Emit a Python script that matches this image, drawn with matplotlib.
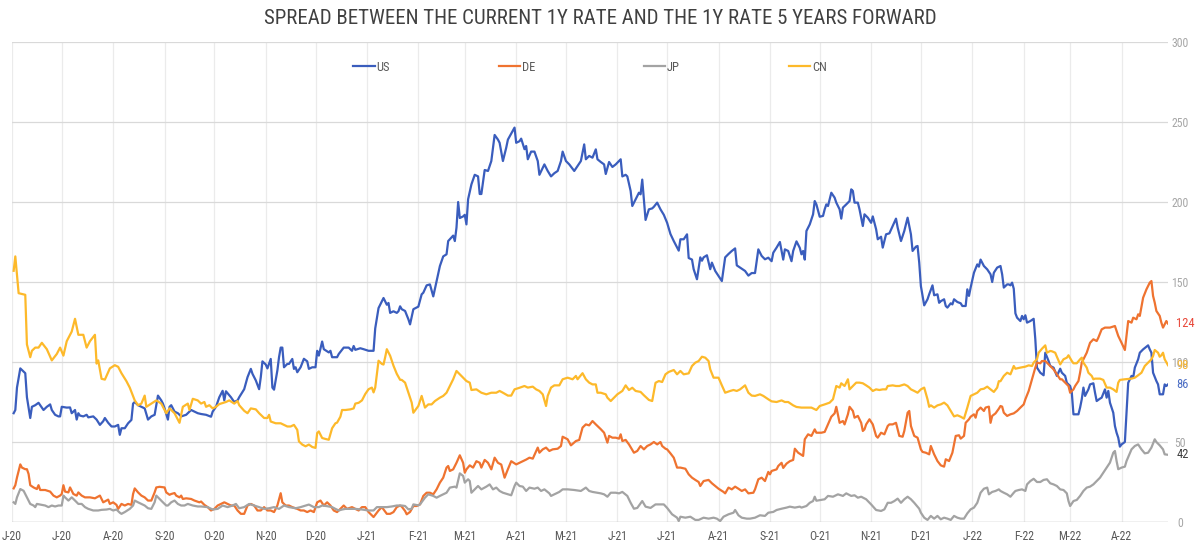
import numpy as np
import matplotlib
matplotlib.use("Agg")
import matplotlib.pyplot as plt
import matplotlib.dates as mdates
from matplotlib import font_manager
from matplotlib.ticker import FuncFormatter, MultipleLocator

# ---------------- data (day offset from START, value in bp) ----------------
START = np.datetime64("2020-06-02")
X_MIN = np.datetime64("2020-06-01")
X_MAX = np.datetime64("2022-04-29")

TITLE = "SPREAD BETWEEN THE CURRENT 1Y RATE AND THE 1Y RATE 5 YEARS FORWARD"
series_names = ["US", "DE", "JP", "CN"]
end_labels = ["86", "124", "42", "98"]

us_points = [
    (0, 68), (1, 70), (2, 84), (4, 96), (5, 95), (7, 93), (8, 78), (10, 65), (11, 72), (13, 73), (15, 74.5),
    (16, 73), (18, 70), (20, 72), (22, 73.5), (23, 70), (25, 67), (27, 66), (28, 66), (29, 72), (32, 71.5),
    (34, 71.6), (35, 68), (37, 70), (38, 64), (39, 68), (40, 66.5), (42, 66), (44, 67), (45, 65.4), (48, 66),
    (50, 64), (52, 60.7), (54, 63), (55, 65), (57, 62), (59, 59.7), (61, 59.7), (63, 60.7), (64, 54.5),
    (65, 58.6), (67, 58.6), (69, 61.7), (71, 63.8), (72, 74), (73, 75), (75, 73), (77, 72), (79, 71), (81, 64),
    (83, 66), (85, 67), (86, 73), (87, 79), (89, 76), (90, 74), (91, 71), (93, 64), (94, 72), (95, 73), (97, 69),
    (99, 68), (101, 66), (104, 67), (107, 70), (109, 69), (111, 68), (113, 67.5), (116, 67), (119, 65.8),
    (120, 69), (122, 72), (124, 78), (126, 82), (127, 76), (128, 81.7), (129, 80.5), (131, 78), (133, 75),
    (135, 76), (136, 78), (139, 83), (141, 90.5), (143, 95.7), (144, 92.6), (146, 88.5), (148, 83), (149, 90.5),
    (150, 100.4), (152, 98.4), (153, 96), (155, 101.9), (156, 84), (157, 82.7), (159, 94.7), (160, 103),
    (161, 109), (162, 109), (163, 96.7), (165, 98.8), (166, 98.8), (168, 101.9), (169, 95.7), (170, 96.7),
    (171, 93.6), (173, 96.7), (175, 102), (177, 100.4), (178, 95.7), (180, 96.7), (182, 96.7), (183, 107),
    (184, 104), (186, 112.8), (187, 108), (190, 106), (191, 107), (192, 103), (195, 103), (196, 105), (199, 109),
    (202, 109), (204, 107), (205, 110), (206, 107.6), (209, 108.6), (211, 108), (214, 107), (217, 107),
    (218, 121), (220, 133.7), (222, 137.9), (223, 140), (225, 135.8), (226, 136.9), (227, 130.7), (229, 131.7),
    (231, 130.7), (232, 131.7), (233, 134.8), (234, 133), (236, 131.9), (238, 126.7), (239, 123.5), (241, 133),
    (244, 134.6), (246, 142.3), (247, 143.3), (249, 147.9), (251, 148.5), (253, 141), (255, 150.6), (257, 160),
    (259, 166), (261, 167.3), (262, 175.6), (265, 179), (266, 175.6), (267, 184), (268, 200), (269, 190),
    (271, 191), (272, 192), (273, 186), (274, 201.7), (276, 211), (278, 217), (280, 216), (281, 205), (282, 205),
    (284, 220), (286, 219.4), (288, 225.6), (290, 241.9), (292, 239), (293, 237), (295, 225.6), (297, 234),
    (298, 239), (300, 242.7), (302, 246.5), (303, 237), (305, 238), (306, 239.6), (308, 233), (309, 235),
    (310, 226.7), (312, 231.5), (314, 231.5), (316, 225.6), (317, 217), (319, 221.3), (320, 223.5), (322, 219.4),
    (324, 216), (326, 218), (328, 219.4), (330, 225.6), (331, 231.5), (333, 225.6), (335, 223.5), (338, 219.4),
    (340, 222.5), (342, 225.6), (344, 236), (345, 226.7), (347, 228.8), (349, 227.7), (351, 232.9), (352, 226.7),
    (354, 225), (356, 223.5), (357, 217.5), (359, 225), (361, 221.9), (363, 223.5), (365, 225.6), (366, 226.7),
    (367, 216), (369, 217), (370, 216), (372, 206.9), (373, 197.5), (375, 201.7), (377, 205.8), (378, 204.8),
    (379, 214), (380, 201.7), (381, 188.8), (383, 195.4), (385, 196), (386, 197), (388, 199.6), (390, 195.4),
    (392, 192), (394, 187), (396, 180), (398, 175.6), (401, 169.6), (402, 176.7), (404, 176.7), (406, 179.8),
    (407, 165), (409, 164), (410, 158), (412, 151.7), (414, 165.4), (415, 163.3), (416, 165.4), (418, 166.7),
    (420, 158), (421, 162.1), (423, 156.9), (425, 153.8), (427, 150.6), (429, 165.4), (431, 167.5), (433, 169.4),
    (435, 171), (436, 160.4), (438, 159), (441, 156.9), (443, 154), (445, 155.6), (447, 155.6), (449, 170.4),
    (451, 166.3), (453, 164.2), (455, 165.2), (457, 163), (458, 168.3), (460, 171.5), (462, 175), (464, 164),
    (465, 170.4), (467, 169.4), (469, 163), (470, 169.4), (472, 175.4), (474, 171.3), (475, 167.3), (476, 169.4),
    (477, 164), (478, 181.9), (480, 186), (482, 192.3), (483, 200.6), (484, 198.5), (486, 190.8), (488, 191.3),
    (489, 195.4), (490, 198.5), (491, 197.5), (493, 205.8), (495, 202.7), (496, 199.6), (498, 195.4),
    (499, 189.6), (500, 196.5), (502, 198.5), (504, 200.6), (505, 207.9), (506, 206.9), (507, 199.6),
    (509, 199.6), (510, 195.4), (512, 185), (513, 192.3), (515, 190.2), (517, 187), (518, 191), (520, 183),
    (521, 176.7), (523, 178.3), (524, 171.5), (526, 179.8), (528, 180.4), (530, 185), (532, 189.6), (533, 184),
    (535, 175.6), (537, 181.9), (539, 190.2), (541, 179.8), (542, 169.4), (544, 172.1), (545, 172.5),
    (546, 162.1), (547, 147.5), (548, 141.3), (549, 135.4), (551, 139.2), (552, 142.3), (554, 147.9),
    (555, 141.7), (557, 142.3), (558, 137), (559, 138), (561, 139.2), (562, 135), (563, 134), (565, 136.7),
    (566, 136), (567, 139.2), (569, 137.5), (571, 136.7), (572, 135), (574, 135), (575, 145.4), (576, 141.3),
    (577, 146.5), (579, 155.8), (581, 161), (582, 159.6), (583, 164), (585, 160), (587, 157.9), (589, 154.8),
    (590, 150), (591, 155.8), (593, 159), (595, 160), (596, 154.8), (597, 146.5), (599, 148.5), (600, 148.5),
    (601, 147.9), (602, 149.6), (603, 145.8), (604, 130.4), (605, 127.7), (607, 125.6), (608, 128.8),
    (609, 126.7), (610, 129.2), (611, 124.6), (613, 125.6), (615, 127), (616, 114.2), (617, 96.5), (619, 93.3),
    (621, 91.7), (622, 105.8), (624, 100.6), (625, 97.5), (627, 96.5), (629, 91.3), (631, 95.8), (632, 93.3),
    (634, 91.3), (635, 87), (637, 85), (638, 80.8), (639, 67.3), (641, 67.3), (642, 67.3), (643, 71.5),
    (644, 76.7), (645, 84), (646, 78.8), (648, 82.9), (649, 86), (651, 86.7), (652, 80.8), (653, 75.6),
    (655, 77.1), (656, 77.7), (658, 82.9), (659, 77.7), (660, 81.9), (661, 74.6), (663, 68.3), (664, 60),
    (665, 55.8), (666, 52.7), (667, 47.1), (668, 48.5), (670, 50), (671, 68.3), (672, 87), (674, 91.3),
    (675, 90.2), (676, 96.5), (678, 101.7), (679, 105.8), (681, 107.9), (684, 110.4), (685, 107.9), (686, 105.8),
    (687, 93.3), (689, 88.1), (690, 86), (691, 79.8), (693, 79.8), (694, 86), (695, 85), (696, 86),
]

de_points = [
    (0, 21), (1, 23), (2, 27.8), (4, 36), (5, 34), (7, 33), (8, 33), (9, 30), (10, 23), (12, 21.6), (14, 20.6),
    (15, 23), (16, 20), (19, 20), (22, 19), (24, 16.5), (26, 15.4), (28, 16.5), (29, 17.5), (30, 23), (31, 19),
    (33, 18.5), (34, 21.6), (36, 17.5), (38, 16.5), (39, 18.5), (41, 16.5), (43, 15.4), (46, 15.4), (49, 14.8),
    (52, 16.5), (54, 12.3), (57, 14), (58, 11.3), (60, 12.3), (62, 10.7), (63, 8.2), (65, 11.3), (67, 10.3),
    (69, 11.3), (71, 10.7), (72, 17.5), (73, 21), (75, 18.5), (77, 16.5), (79, 15.4), (81, 13.4), (83, 13.4),
    (85, 18.5), (86, 21.6), (88, 22), (91, 21.6), (92, 18.5), (94, 17), (95, 17.5), (97, 18.1), (98, 16.5),
    (100, 15.4), (101, 16.5), (102, 14.4), (104, 14.8), (107, 14.4), (109, 13.4), (112, 12.3), (113, 12.8),
    (115, 10.7), (117, 9.3), (119, 7.2), (121, 8.2), (123, 10.3), (125, 11.3), (127, 12.3), (129, 11.3),
    (131, 10.3), (133, 10.3), (135, 7.2), (137, 5.1), (139, 5.1), (141, 10.3), (143, 11.3), (145, 10.3),
    (147, 7.2), (149, 7.2), (151, 9.3), (153, 7.2), (155, 7.2), (157, 6.2), (159, 10.3), (161, 18), (162, 12.3),
    (164, 10.3), (166, 10.3), (168, 9.3), (171, 8.2), (173, 7.2), (175, 7.2), (177, 6.2), (179, 7.2), (181, 6.2),
    (183, 12.3), (185, 13.4), (187, 10.3), (189, 12.3), (191, 10.3), (193, 7.2), (195, 6.2), (197, 8.2),
    (199, 10.3), (201, 8.2), (204, 9.3), (206, 8.2), (208, 7.2), (210, 9.3), (212, 9.3), (214, 6.2), (216, 4.1),
    (217, 3.1), (220, 7.2), (222, 9.3), (225, 5.1), (227, 5.1), (229, 6.2), (231, 9.3), (233, 10.3), (234, 9.6),
    (236, 6.9), (237, 4.8), (239, 6.3), (241, 10), (243, 10), (245, 11), (247, 16.3), (249, 18.3), (251, 18.3),
    (253, 17.3), (255, 20.4), (257, 24.6), (259, 27.7), (261, 34), (262, 35), (263, 31.9), (265, 32.9), (267, 37),
    (269, 41.7), (271, 37), (272, 30.8), (273, 32.9), (275, 35.4), (277, 34), (279, 38), (281, 37), (282, 34),
    (284, 38.8), (286, 37), (288, 32.9), (290, 40.2), (292, 37), (294, 35.9), (296, 27.7), (298, 33), (300, 38),
    (303, 36), (306, 37.5), (309, 39), (311, 40.2), (313, 39.6), (316, 46.5), (317, 43.3), (319, 45.4),
    (321, 46.5), (323, 44.4), (325, 45.4), (328, 45.8), (330, 47.5), (331, 53.3), (334, 51.7), (336, 47.9),
    (339, 50.6), (341, 51.3), (343, 59), (345, 61), (347, 60.4), (349, 63.1), (351, 61), (353, 59), (354, 58),
    (356, 55.8), (358, 49.6), (359, 53.8), (361, 52.7), (363, 52.7), (365, 52.1), (366, 54.8), (367, 50.6),
    (369, 51.3), (371, 48.5), (374, 43.3), (376, 44.4), (378, 47.5), (380, 45.4), (382, 47.5), (384, 48.5),
    (386, 50), (388, 48.5), (390, 50), (391, 47.5), (393, 45.8), (394, 45.4), (396, 42.9), (398, 40.2), (400, 34),
    (402, 34), (405, 33.3), (407, 29.8), (409, 27.7), (411, 26.3), (413, 25), (414, 22.5), (416, 25.6),
    (419, 26.3), (421, 24.2), (423, 22.5), (425, 20.8), (428, 18.8), (429, 17.9), (431, 21.5), (433, 20.4),
    (435, 22.1), (437, 20.8), (439, 19.4), (441, 20.4), (443, 17.9), (446, 18.3), (447, 20.4), (449, 26.7),
    (451, 27.7), (453, 25.6), (455, 31.3), (456, 29.8), (457, 31.9), (460, 32.9), (461, 35), (463, 37),
    (464, 33.8), (466, 36.5), (468, 38), (470, 38.8), (471, 45.8), (473, 43.3), (475, 42), (476, 41.3),
    (477, 51.7), (479, 54.8), (481, 53.8), (483, 57.9), (484, 55.8), (487, 55.8), (489, 56.3), (491, 61),
    (493, 65.8), (495, 67.9), (496, 72), (498, 62), (500, 63.1), (501, 61), (503, 67.3), (504, 72), (506, 69.4),
    (507, 65.2), (509, 66.3), (511, 62), (512, 56.9), (513, 57.9), (514, 61), (516, 64.2), (518, 61),
    (520, 53.8), (521, 52.7), (523, 55.8), (525, 54.8), (527, 60), (528, 61), (530, 61), (532, 62), (534, 53.8),
    (536, 53.3), (537, 56.9), (539, 68.3), (540, 69.4), (541, 60), (543, 53.8), (545, 52.7), (547, 45.4),
    (548, 43.8), (550, 43.3), (552, 42.3), (553, 47.5), (555, 42.3), (557, 38.1), (559, 35.4), (561, 34.6),
    (562, 39.2), (564, 38.1), (566, 43.3), (567, 48.5), (568, 53.8), (570, 54.2), (571, 52.1), (573, 53.8),
    (574, 62), (576, 64.2), (577, 65.8), (579, 67.3), (580, 65.2), (581, 69.4), (583, 71.5), (585, 69.4),
    (586, 71.5), (588, 72.1), (589, 62), (590, 66.3), (592, 67.9), (594, 70.8), (595, 72.5), (596, 72.1),
    (597, 68.3), (599, 66.3), (601, 67.3), (603, 67.9), (605, 69.4), (607, 71.5), (609, 73.5), (610, 76.7),
    (612, 81.9), (614, 89.2), (616, 96.5), (617, 99.6), (619, 99.2), (620, 100.6), (622, 100.6), (623, 99.6),
    (625, 97.5), (627, 95.4), (629, 92.3), (631, 89.2), (632, 89.2), (634, 87.1), (636, 85), (637, 80.8),
    (639, 82.9), (640, 85), (642, 88.1), (643, 93.3), (644, 99.6), (645, 101.7), (647, 105.8), (649, 112),
    (651, 114.2), (653, 113.1), (654, 115.2), (656, 120.4), (658, 121.5), (661, 121.5), (664, 122.5),
    (665, 119.4), (666, 116.3), (668, 112), (670, 107.5), (671, 116.3), (672, 125.6), (674, 124.6), (675, 127.7),
    (677, 126.7), (678, 129.8), (679, 128.8), (681, 140.2), (683, 145.4), (685, 149.6), (686, 150.6),
    (687, 141.3), (688, 137.1), (689, 131.9), (691, 128.8), (692, 124.6), (693, 121.5), (695, 125.6), (696, 124),
]

jp_points = [
    (0, 12.3), (1, 11.3), (2, 15.4), (4, 20.6), (6, 19.5), (7, 17.5), (8, 15.4), (10, 11.3), (12, 10.3),
    (13, 9.3), (14, 11.3), (16, 10.9), (19, 10.3), (21, 9.3), (23, 10.3), (25, 9.7), (27, 10.3), (29, 10.3),
    (30, 16.5), (31, 15.4), (33, 13.4), (35, 15.4), (37, 13.4), (39, 11.3), (41, 11.3), (43, 9.3), (45, 8.2),
    (48, 7.2), (51, 7.2), (53, 7.6), (56, 7.8), (58, 8.2), (60, 7.2), (62, 7.8), (64, 5.8), (65, 5.1), (67, 6.2),
    (70, 8.2), (72, 10.3), (73, 13.4), (75, 12.3), (77, 11.3), (79, 10.3), (81, 8.6), (83, 8.2), (85, 12.3),
    (86, 16.5), (88, 14.4), (90, 12.3), (92, 10.3), (93, 10.3), (95, 12.3), (97, 13.4), (99, 11.3), (101, 10.3),
    (103, 10.3), (105, 11.3), (108, 10.3), (111, 9.7), (113, 9.7), (117, 9.3), (120, 7.8), (123, 8.2),
    (126, 10.3), (129, 9.3), (132, 10.3), (134, 11.3), (136, 8.6), (139, 9.3), (142, 11.3), (145, 10.3),
    (148, 9.3), (151, 8.2), (154, 8.6), (157, 9.3), (160, 8.2), (163, 10.3), (166, 9.3), (170, 8.6), (173, 9.3),
    (176, 10.3), (178, 10.9), (181, 9.3), (184, 9.3), (186, 10.3), (189, 9.9), (192, 9.3), (194, 8.2), (196, 7.2),
    (198, 7.8), (200, 8.2), (203, 8.2), (206, 8.2), (210, 7.8), (214, 7.2), (217, 7.2), (219, 9.3), (222, 9.3),
    (225, 9.3), (228, 9.7), (231, 10.3), (234, 10.3), (236, 10), (238, 7.9), (240, 8.3), (241, 11), (244, 10.4),
    (245, 11), (248, 15.2), (250, 17.3), (253, 16.3), (255, 15.2), (257, 16.3), (259, 17.3), (261, 18.3),
    (263, 21.5), (266, 22.1), (267, 21.5), (269, 30.4), (271, 28.8), (272, 24.6), (274, 26.7), (275, 25.6),
    (276, 18.3), (278, 20.4), (280, 22.5), (282, 20.4), (285, 22.1), (287, 23.5), (289, 20.4), (291, 21.5),
    (293, 19.4), (295, 18.3), (298, 17.3), (300, 16.7), (302, 22.5), (303, 24.6), (305, 22.5), (307, 22.1),
    (309, 19.4), (311, 21.5), (314, 20.8), (316, 21.5), (318, 19.4), (320, 20.4), (323, 17.9), (324, 16.3),
    (326, 17.3), (329, 18.8), (331, 20.4), (334, 20.4), (338, 20), (342, 19.4), (345, 21.5), (347, 19.4),
    (349, 18.8), (352, 18.3), (354, 17.9), (356, 17.3), (358, 15.8), (360, 18.3), (363, 18.3), (365, 17.9),
    (367, 18.8), (370, 16.3), (372, 12), (374, 8.3), (376, 8.8), (379, 13.1), (381, 9.6), (384, 8.8), (387, 11),
    (390, 11), (392, 11), (394, 8.8), (397, 4.8), (400, 2.7), (401, 0.6), (402, 3.3), (405, 2.7), (408, 3.3),
    (411, 1.3), (413, 1.3), (416, 2.7), (419, 2.1), (422, 2.7), (424, 2.1), (426, 0.6), (428, 3.3), (431, 4.8),
    (434, 5.8), (435, 7.5), (437, 4.2), (439, 2.7), (442, 2.1), (444, 2.1), (447, 2.7), (450, 4.2), (453, 3.8),
    (455, 5.8), (458, 6.3), (460, 7.5), (463, 8.3), (466, 9), (468, 9.6), (471, 9), (474, 9.6), (475, 9),
    (478, 10), (480, 12), (482, 13.1), (483, 15.8), (484, 13.3), (487, 13.8), (489, 14.2), (491, 16.3),
    (494, 15.8), (497, 17.3), (500, 16.3), (502, 17.9), (505, 16.3), (507, 16.7), (509, 15.2), (511, 15.8),
    (514, 14.2), (517, 11), (520, 7.5), (523, 6.9), (525, 7.9), (527, 12), (529, 12), (531, 13.1), (533, 14.6),
    (535, 12), (537, 14.2), (539, 15.8), (541, 14.2), (543, 12), (546, 8.3), (547, 5.8), (549, 2.7), (551, 1.3),
    (553, 3.8), (555, 2.1), (557, 3.8), (559, 1.7), (561, 2.7), (563, 2.1), (565, 1.3), (567, 3.8), (569, 2.7),
    (571, 2.1), (573, 2.1), (575, 5.4), (577, 7.9), (579, 9), (581, 12), (583, 18.3), (585, 20.8), (587, 21.5),
    (588, 17.3), (590, 18.8), (592, 19.4), (594, 20.4), (595, 19.4), (597, 18.3), (599, 17.3), (601, 15.8),
    (603, 18.3), (604, 19.4), (606, 20), (608, 20.4), (610, 19.4), (611, 23.5), (613, 25.6), (615, 27), (617, 25),
    (619, 25), (621, 26.3), (623, 26.7), (625, 24.2), (627, 23.5), (629, 22.5), (631, 20.4), (633, 20),
    (635, 17.9), (636, 13.1), (637, 10), (639, 13.1), (641, 13.8), (643, 16.3), (645, 19.4), (647, 21.5),
    (649, 22.1), (651, 23.5), (653, 25.6), (655, 27.7), (657, 30.8), (659, 34), (661, 37.1), (663, 43.3),
    (664, 44.4), (665, 38.1), (666, 33), (668, 34), (670, 34.6), (671, 38.1), (674, 45.4), (676, 47.5),
    (678, 48.5), (680, 45.4), (682, 42.9), (684, 43.3), (686, 46.5), (688, 51.7), (689, 50), (691, 47.9),
    (693, 45.4), (694, 42.3), (696, 42),
]

cn_points = [
    (0, 157), (1, 166), (3, 143), (7, 142), (8, 111), (10, 103), (11, 107), (13, 109), (15, 109), (17, 112),
    (20, 108), (23, 101), (26, 105), (28, 109), (30, 104), (32, 113), (35, 119), (37, 127), (39, 117), (42, 117),
    (44, 109), (46, 113), (49, 117), (50, 99), (51, 101), (53, 89.5), (55, 89), (58, 96), (61, 98), (63, 97),
    (65, 93), (68, 88), (70, 84), (73, 76), (75, 73), (77, 74), (79, 79), (80, 72), (83, 74), (86, 76), (89, 74),
    (92, 68), (94, 71), (97, 68), (100, 62), (102, 72), (105, 74), (106, 70), (108, 77), (111, 76), (113, 74),
    (115, 75), (116, 72), (118, 73), (120, 71), (122, 72), (124, 73.7), (128, 75), (130, 76), (133, 74),
    (135, 75.6), (136, 73), (139, 69.5), (141, 68), (143, 71), (146, 70.4), (148, 68), (151, 65), (153, 65),
    (154, 67), (155, 62.8), (158, 61.7), (161, 61.7), (163, 60.7), (165, 59.7), (167, 59.7), (169, 60.7),
    (171, 57.6), (172, 50.4), (174, 48.4), (176, 47.3), (178, 48.4), (180, 46.9), (182, 46.3), (183, 55.6),
    (184, 56.6), (186, 52.5), (188, 51.9), (190, 51.4), (192, 58.6), (194, 61.7), (195, 62.1), (197, 65.8),
    (198, 70), (200, 70), (203, 70.4), (205, 71), (206, 74), (208, 74.5), (210, 76), (212, 80), (214, 83),
    (216, 84), (217, 81), (218, 84), (219, 92.6), (220, 100.8), (222, 98.8), (223, 98.4), (224, 103), (225, 108),
    (227, 103.9), (229, 97.7), (231, 92.6), (233, 88.9), (234, 88.8), (236, 87.1), (238, 80.8), (240, 74.6),
    (241, 68.3), (244, 72.5), (246, 78.8), (248, 71.5), (250, 73.5), (252, 73.5), (254, 75.6), (257, 77.7),
    (259, 78.8), (261, 80.8), (263, 85), (265, 89.2), (267, 94.4), (269, 92.3), (271, 90.2), (273, 88.1),
    (275, 87.1), (276, 82.5), (279, 82.9), (282, 80.8), (285, 79.8), (288, 80.8), (291, 80.8), (293, 81.9),
    (295, 80.8), (298, 79), (300, 79), (302, 82.9), (305, 83.9), (308, 85), (310, 84), (313, 84.6), (315, 82.9),
    (317, 81.9), (319, 79.8), (321, 72.5), (322, 78.8), (324, 84), (326, 85.4), (329, 85.4), (331, 89.2),
    (334, 90.2), (337, 89.2), (339, 91.3), (340, 89.2), (343, 93), (345, 89.2), (347, 87.1), (349, 86), (351, 86),
    (352, 80.8), (354, 80.8), (357, 79.8), (358, 77.7), (360, 75.6), (362, 77.7), (364, 79.8), (367, 81.9),
    (369, 85.4), (371, 82.5), (373, 83.9), (375, 81.9), (378, 81.3), (380, 79.2), (383, 76.3), (385, 75.6),
    (387, 87), (389, 88.1), (391, 87.5), (393, 92.3), (395, 93.8), (398, 95), (400, 92.3), (402, 94.4),
    (404, 92.3), (407, 92.9), (409, 97.5), (411, 99.6), (413, 100.6), (415, 103.3), (417, 102.7), (419, 100.6),
    (420, 95.4), (422, 90.2), (425, 90.2), (427, 85.4), (429, 80.8), (432, 81.9), (434, 82.5), (436, 81.9),
    (438, 82.9), (441, 85.4), (443, 80.8), (445, 79), (447, 78.8), (450, 79.8), (452, 78.8), (455, 76.7),
    (457, 75.4), (460, 75), (463, 76), (465, 75), (467, 75), (470, 72.9), (472, 71.9), (475, 71.5), (478, 71.5),
    (481, 71.5), (484, 70), (486, 72.5), (489, 73.5), (492, 74.6), (494, 76.7), (496, 85), (498, 84), (499, 86.7),
    (501, 85), (503, 89.2), (504, 82.9), (506, 85), (508, 87.1), (510, 87.1), (512, 86.7), (514, 85.4), (516, 84),
    (518, 81.9), (520, 82.9), (522, 82.5), (524, 82.9), (526, 82.9), (527, 85), (530, 85.4), (532, 85), (534, 85),
    (537, 86), (539, 85), (541, 82.9), (543, 81.9), (545, 80.8), (547, 82.9), (549, 84), (551, 76.7), (552, 72),
    (553, 72.9), (555, 71.5), (557, 72.9), (559, 73.5), (561, 74.6), (563, 72.9), (565, 69.4), (567, 66),
    (569, 66.7), (571, 65.8), (573, 64.6), (575, 71.5), (577, 78.8), (579, 79.8), (581, 80.8), (583, 82.9),
    (585, 83.3), (587, 84.6), (589, 82.9), (591, 81.3), (593, 84), (594, 88), (595, 88), (597, 91.3), (599, 93.3),
    (601, 92.3), (603, 97.5), (604, 95.8), (607, 96.5), (610, 97.1), (612, 97.9), (614, 97.5), (615, 99.6),
    (617, 101.7), (618, 105.8), (620, 108.3), (622, 110.4), (623, 105.8), (625, 106.9), (626, 106.7),
    (628, 105.8), (629, 103.3), (631, 98.5), (633, 101.7), (635, 102.7), (636, 104.2), (638, 100.6), (639, 99.2),
    (641, 99.2), (643, 101.7), (644, 102.7), (645, 99.6), (647, 96.5), (648, 93.3), (650, 91.3), (651, 89.2),
    (652, 89.6), (655, 89.6), (657, 88.8), (659, 84), (661, 84), (663, 82.9), (665, 81.3), (666, 87.1),
    (667, 88.8), (670, 89.2), (674, 89.6), (676, 90.2), (678, 91.7), (680, 93.3), (682, 97.5), (684, 99.6),
    (686, 101.7), (687, 103.8), (688, 107.5), (690, 105.8), (691, 103.3), (692, 104.2), (693, 105.8),
    (694, 101.7), (696, 98),
]

y_ticks = [0, 50, 100, 150, 200, 250, 300]

# ---------------- style ----------------
line_colors = {"US": "#3A5DBD", "DE": "#EF7330", "JP": "#A3A3A3", "CN": "#FDB92A"}
label_colors = {"US": "#4A6CC4", "DE": "#E8483A", "JP": "#3F3F3F", "CN": "#F5B533"}

available = {f.name for f in font_manager.fontManager.ttflist}
FONT = next((f for f in ["Roboto Condensed", "Liberation Sans Narrow", "Roboto", "DejaVu Sans"]
             if f in available), "DejaVu Sans")
plt.rcParams["font.family"] = [FONT, "DejaVu Sans"]

W, H = 1200, 549
fig = plt.figure(figsize=(W / 100, H / 100), dpi=100)
ax = fig.add_axes([12 / W, 27 / H, 1156 / W, 480 / H])

points = {"US": us_points, "DE": de_points, "JP": jp_points, "CN": cn_points}
for name in series_names:
    d, v = zip(*points[name])
    dates = START + np.array(d).astype("timedelta64[D]")
    ax.plot(dates, v, color=line_colors[name], lw=1.6, label=name, solid_joinstyle="round")

ax.set_xlim(X_MIN, X_MAX)
ax.set_ylim(y_ticks[0], y_ticks[-1])

for s in ax.spines.values():
    s.set_visible(False)

# grid
ax.set_yticks(y_ticks)
ax.yaxis.tick_right()
ax.grid(axis="y", color="#D9D9D9", lw=0.9)
ax.xaxis.set_major_locator(mdates.MonthLocator())
ax.grid(axis="x", color="#EBEBEB", lw=0.9)
ax.axhline(0, color="#C8C8C8", lw=1.0, zorder=1)
ax.set_axisbelow(True)


def month_fmt(x, pos):
    dt = mdates.num2date(x)
    return dt.strftime("%b")[0] + "-" + dt.strftime("%y")


ax.xaxis.set_major_formatter(FuncFormatter(month_fmt))
ax.tick_params(axis="x", length=0, pad=6, labelsize=8.5, labelcolor="#595959")
ax.tick_params(axis="y", length=0, pad=8.6, labelsize=8.5, labelcolor="#A6A6A6")
for lab in ax.get_yticklabels():
    lab.set_ha("center")

# end labels
for name, txt in zip(series_names, end_labels):
    d, v = points[name][-1]
    ax.annotate(txt, xy=(START + np.timedelta64(d, "D"), v), xytext=(6, 0), textcoords="offset points",
                ha="left", va="center", fontsize=9, color=label_colors[name], annotation_clip=False)

# legend
leg = ax.legend(loc="center", bbox_to_anchor=(0.5, (522 - 67) / 480), ncol=4, frameon=False,
                fontsize=9, handlelength=1.7, handletextpad=0.15, columnspacing=8.7, labelcolor="#595959")

fig.text(0.5, 1 - 18 / H, TITLE, ha="center", va="center", fontsize=15, color="#404040")

fig.savefig("out.png", dpi=100)
